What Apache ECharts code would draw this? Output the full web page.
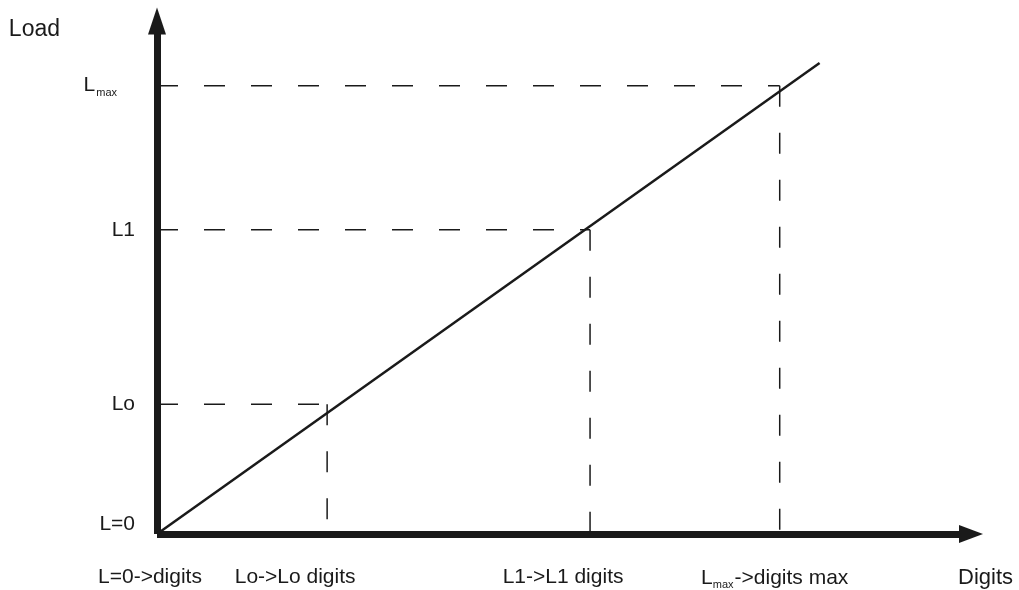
<!DOCTYPE html>
<html>
<head>
<meta charset="utf-8">
<script src="https://cdn.jsdelivr.net/npm/echarts@6/dist/echarts.min.js"></script>
<style>
  html, body { margin: 0; padding: 0; background: #fff; }
  #chart { width: 1019px; height: 590px; }
</style>
</head>
<body>
<div id="chart"></div>
<script>
  // break points on the load/digits line (axis units 0..100)
  var levels = ['Lo', 'L1', 'Lmax']
  var digitMarks = [20.9, 53.2, 76.5]
  var loadMarks = [25.3, 59.3, 87.4]
  var lineEnd = [81.4, 91.8]

  var xTickValues = [0, 20.9, 53.2, 76.5]
  var xTickLabels = ['{a|L=0->digits}', '{b|Lo->Lo digits}', '{c|L1->L1 digits}', '{d|L}{ds|max}{dd|->digits max}']
  var yTickValues = [0, 25.3, 59.3, 87.4]
  var yTickLabels = ['{z|L=0}', '{t|Lo}', '{t|L1}', '{m|L}{ms|max}']

  var ink = '#1a1a1a'
  var font = 'Liberation Sans'

  var chart = echarts.init(document.getElementById('chart'))

  var series = [{
    type: 'line',
    data: [[0, 0], lineEnd],
    symbol: 'none',
    silent: true,
    lineStyle: { color: ink, width: 2.5 }
  }]
  levels.forEach(function (name, i) {
    // horizontal dash from the load axis
    series.push({
      type: 'line',
      data: [[0, loadMarks[i]], [digitMarks[i], loadMarks[i]]],
      symbol: 'none',
      silent: true,
      lineStyle: { color: ink, width: 1.5, type: [21, 26] }
    })
    // vertical dash down to the digits axis
    series.push({
      type: 'line',
      data: [[digitMarks[i], loadMarks[i]], [digitMarks[i], 0]],
      symbol: 'none',
      silent: true,
      lineStyle: { color: ink, width: 1.5, type: [21, 26] }
    })
  })

  chart.setOption({
    animation: false,
    textStyle: { fontFamily: font, color: ink },
    grid: { left: 157, right: 48, top: 21, bottom: 55 },
    xAxis: {
      type: 'value',
      min: 0,
      max: 100,
      name: 'Digits',
      nameLocation: 'end',
      nameGap: -13,
      nameTextStyle: { fontFamily: font, fontSize: 22, color: ink, align: 'left', verticalAlign: 'top', padding: [33, 0, 0, 0] },
      splitLine: { show: false },
      axisTick: { show: false },
      axisLine: {
        show: true,
        symbol: ['none', 'triangle'],
        symbolSize: [18, 24],
        lineStyle: { color: ink, width: 7, cap: 'butt' }
      },
      axisLabel: {
        customValues: xTickValues,
        margin: 33,
        formatter: function (v, i) { return xTickLabels[xTickValues.indexOf(v)] },
        rich: {
          a: { fontFamily: font, fontSize: 21, color: ink, padding: [0, 14, 0, 0] },
          b: { fontFamily: font, fontSize: 21, color: ink, padding: [0, 64, 0, 0] },
          c: { fontFamily: font, fontSize: 21, color: ink, padding: [0, 54, 0, 0] },
          d: { fontFamily: font, fontSize: 21, color: ink },
          dd: { fontFamily: font, fontSize: 21, color: ink, padding: [0, 10, 0, 0] },
          ds: { fontFamily: font, fontSize: 11, color: ink, padding: [12, 1, 0, 0] }
        }
      }
    },
    yAxis: {
      type: 'value',
      min: 0,
      max: 100,
      name: 'Load',
      nameLocation: 'end',
      nameGap: -20,
      nameTextStyle: { fontFamily: font, fontSize: 23, color: ink, align: 'right', padding: [0, 97, 0, 0] },
      splitLine: { show: false },
      axisTick: { show: false },
      axisLine: {
        show: true,
        symbol: ['none', 'triangle'],
        symbolSize: [18, 27],
        lineStyle: { color: ink, width: 7, cap: 'butt' }
      },
      axisLabel: {
        customValues: yTickValues,
        margin: 22,
        formatter: function (v, i) { return yTickLabels[yTickValues.indexOf(v)] },
        rich: {
          z: { fontFamily: font, fontSize: 21, color: ink, padding: [0, 0, 20, 0] },
          t: { fontFamily: font, fontSize: 21, color: ink },
          m: { fontFamily: font, fontSize: 21, color: ink },
          ms: { fontFamily: font, fontSize: 11, color: ink, padding: [14, 18, 0, 1] }
        }
      }
    },
    series: series
  })
</script>
</body>
</html>
